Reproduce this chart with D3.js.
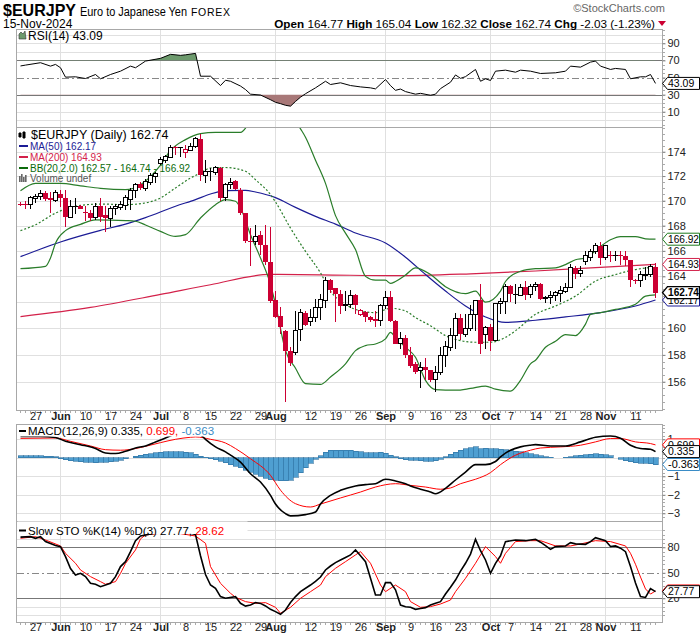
<!DOCTYPE html>
<html><head><meta charset="utf-8">
<script src="https://cdn.jsdelivr.net/npm/d3@7"></script>
<style>
body{margin:0;background:#fff}
svg{display:block}
text{font-family:"Liberation Sans",Arial,sans-serif}
</style></head>
<body><svg id="c" width="700" height="639"></svg>
<script>
// ---------------- DATA ----------------
const startDay = "2024-05-22", endDay = "2024-11-15";
const open = [169.75,169.70,169.73,170.14,170.35,170.62,170.22,170.00,170.54,170.22,
168.68,169.52,169.60,169.05,169.00,168.68,169.54,168.87,168.60,169.35,
169.46,169.65,170.08,170.81,171.35,170.98,171.44,172.00,173.00,173.25,
173.53,174.40,174.30,173.90,174.10,174.45,175.07,172.08,172.40,172.33,
172.66,170.22,171.30,171.60,170.90,169.00,166.80,166.75,167.27,166.49,
165.13,162.14,160.94,159.80,158.30,158.20,159.90,161.20,160.52,160.82,
161.58,162.15,163.71,163.11,162.65,161.71,161.84,162.55,161.07,161.28,
160.87,160.72,160.57,161.71,162.40,160.57,158.87,159.30,158.00,157.30,
156.84,157.09,156.84,156.16,156.72,157.95,158.57,159.45,160.82,159.57,
160.00,161.07,162.20,159.52,160.07,159.07,161.91,162.05,163.24,162.62,
162.55,163.16,162.60,163.20,163.37,162.25,162.35,162.52,162.70,162.86,
163.16,164.66,164.22,165.13,165.49,165.96,166.41,165.44,165.70,165.62,
165.65,165.60,165.30,163.70,163.65,164.05,164.14,164.77];
const high = [169.92,169.95,170.41,170.54,170.90,170.81,170.70,170.90,170.90,170.90,
170.08,170.20,169.65,169.54,169.27,169.80,170.20,169.54,169.54,169.73,
169.95,170.49,171.03,171.43,171.50,171.80,172.25,172.35,173.55,173.70,
174.58,174.45,174.42,174.58,174.72,175.20,175.46,173.34,172.66,172.80,
172.70,171.43,171.84,171.70,171.03,169.00,167.80,168.07,167.54,168.07,
167.90,162.86,161.66,159.90,158.60,161.30,161.45,161.30,161.45,162.22,
162.60,163.95,163.76,163.11,162.94,162.86,162.94,162.60,161.45,161.33,
160.94,161.33,161.84,162.90,162.86,160.60,159.70,159.50,158.60,157.50,
157.45,157.80,156.90,157.20,158.57,159.07,160.00,161.20,161.10,161.07,
161.79,162.20,163.40,160.20,160.32,161.97,162.35,163.37,163.30,163.37,
163.37,163.63,163.37,163.60,163.45,162.45,162.86,162.90,163.24,163.50,
164.99,164.79,164.79,165.96,166.14,166.62,166.70,166.50,166.00,165.96,
166.00,166.00,165.30,163.80,164.40,164.70,165.00,165.04];
const low = [169.55,169.30,169.30,169.82,170.08,169.95,169.00,169.90,169.46,167.90,
168.60,168.90,169.30,168.34,168.34,168.47,168.30,167.50,167.90,168.87,
169.28,169.28,169.28,170.22,170.90,170.80,171.30,171.44,172.90,173.10,
173.45,173.75,173.60,173.48,174.03,174.30,171.57,171.44,171.57,172.12,
169.95,170.00,170.98,170.90,168.87,166.62,164.79,166.49,165.70,164.92,
161.97,160.80,159.60,154.50,157.20,158.00,159.07,160.20,160.20,160.52,
160.62,161.58,162.73,160.45,161.07,161.33,161.58,161.07,160.95,160.45,
160.52,160.07,160.20,161.45,160.45,158.80,158.45,157.80,157.00,156.60,
155.50,156.10,156.00,155.25,156.47,157.09,158.32,158.45,159.12,159.32,
159.82,159.82,158.07,158.45,158.32,159.02,161.07,161.07,162.00,161.84,
162.47,162.14,162.35,162.90,162.20,161.97,161.90,162.10,162.00,162.73,
163.11,163.76,163.95,164.92,165.23,165.75,164.92,165.30,165.10,165.20,
164.90,164.80,163.16,163.37,163.16,163.70,163.97,162.32];
const close = [169.72,169.68,170.22,170.35,170.62,170.17,170.06,170.70,170.22,168.68,
169.54,169.56,169.36,169.00,168.60,169.54,168.68,168.60,169.35,169.54,
169.73,170.22,170.81,171.30,171.03,171.57,172.06,172.20,173.35,173.60,
174.36,174.34,174.38,174.17,174.45,175.07,172.12,172.39,172.42,172.66,
170.22,171.35,171.50,170.98,169.00,166.75,166.72,167.14,166.49,165.13,
162.10,160.87,160.10,158.30,157.40,159.87,161.20,160.27,160.82,161.58,
162.22,163.71,162.94,162.60,161.71,161.84,162.55,161.79,161.33,160.87,
160.62,160.57,161.71,162.40,160.57,158.82,159.27,158.00,157.20,156.72,
157.09,156.84,156.16,156.72,157.95,158.62,159.45,160.75,159.57,160.00,
161.07,162.14,158.82,160.07,159.07,161.89,162.09,163.24,162.60,162.62,
163.16,162.55,163.24,163.40,162.22,162.40,162.52,162.73,162.90,163.16,
164.66,164.22,164.48,165.65,165.96,166.41,165.44,166.41,165.60,165.65,
165.62,165.30,163.68,163.65,164.14,164.16,164.77,162.74];

// overlays: [day index, value]
const ma50 = [[0,165.54],[8,166.70],[16,167.62],[21,168.12],[25,168.64],[31,169.55],[35,170.09],[38,170.54],[41,170.81],[45,170.84],[47,170.70],[51,170.25],[55,169.46],[59,168.74],[63,168.12],[67,167.41],[73,166.62],[77,165.50],[81,164.14],[85,162.86],[89,161.71],[93,160.87],[97,160.45],[103,160.62],[109,160.87],[116,161.20],[123,161.71],[127,162.17]];
const ma200 = [[0,160.9],[14,161.6],[28,162.6],[38,163.35],[50,164.15],[60,164.12],[75,164.05],[90,164.2],[103,164.42],[115,164.68],[127,164.93]];
const bbUpper = [[0,170.8],[3,171.4],[8,171.4],[12,171.2],[16,171.0],[21,170.9],[24,171.3],[28,172.9],[30,174.1],[33,175.0],[36,175.5],[39,175.6],[44,175.6],[46,176.5],[48,177.2],[50,177.6],[52,177.7],[54,177.2],[56,175.9],[57,175.2],[59,173.3],[61,171.4],[63,168.8],[65,167.4],[67,166.1],[69,164.0],[71,163.7],[73,163.7],[74,163.45],[75,163.6],[77,164.1],[79,164.66],[82,164.14],[85,163.2],[89,162.66],[91,162.86],[93,162.0],[96,162.86],[97,163.6],[100,164.4],[103,164.6],[107,164.66],[109,164.92],[111,165.3],[113,165.44],[116,166.35],[118,166.87],[120,167.13],[123,167.13],[125,166.95],[127,166.92]];
const bbMiddle = [[0,167.6],[3,168.07],[7,169.0],[12,169.62],[16,169.73],[21,169.68],[25,169.82],[28,170.22],[31,171.03],[34,171.84],[36,172.25],[38,172.66],[41,172.7],[45,172.39],[47,171.7],[50,170.49],[51,169.9],[54,167.8],[57,165.96],[60,164.27],[62,162.86],[65,161.84],[68,161.33],[71,161.2],[74,161.53],[77,161.33],[79,160.82],[82,160.2],[85,159.45],[88,159.07],[91,158.95],[94,158.95],[97,159.32],[99,159.82],[103,161.07],[107,161.71],[111,162.47],[115,163.63],[119,164.14],[123,164.53],[127,164.74]];
const bbLower = [[0,164.6],[5,164.78],[6,165.44],[7,166.6],[9,167.6],[12,168.1],[15,168.46],[21,168.4],[23,168.35],[25,168.05],[28,167.54],[31,167.14],[33,167.28],[36,168.61],[39,169.68],[41,170.09],[43,169.95],[44,169.41],[46,167.27],[48,165.44],[50,163.37],[51,161.84],[53,158.32],[55,157.0],[57,155.86],[60,155.8],[62,156.35],[65,157.33],[67,158.32],[69,158.7],[71,158.82],[73,159.2],[74,159.7],[75,159.32],[77,158.57],[79,157.82],[81,156.1],[83,155.42],[87,155.37],[90,155.5],[93,155.68],[95,155.45],[98,155.3],[100,156.1],[102,157.33],[103,157.6],[105,158.57],[107,159.02],[109,159.52],[111,159.45],[113,160.32],[114,161.07],[116,161.2],[119,161.45],[123,161.84],[125,162.47],[127,162.57]];

const rsi = [[0,63.5],[1,64.5],[4,67.3],[6,63.3],[7,65.3],[8,61.4],[9,50.4],[11,50.8],[13,48.8],[15,53.5],[16,48.5],[18,53.5],[20,57.4],[22,63.3],[23,61.4],[25,69.2],[28,72.4],[30,77.1],[32,75.9],[33,76.5],[35,78.2],[36,51.5],[38,51.5],[40,40.6],[41,46.8],[42,45.6],[44,40.0],[45,35.9],[46,30.5],[48,29.5],[50,24],[51,21],[52,19.4],[53,17.5],[54,16.5],[55,22],[56,27],[57,31],[59,37.9],[61,45.6],[62,41.8],[64,43.8],[66,40.6],[68,39],[70,37.9],[71,36.7],[73,47.6],[74,40.5],[75,35],[76,36.5],[77,33.5],[78,32],[79,30.5],[80,31.5],[82,29.2],[83,30.5],[84,37],[86,44.5],[87,53],[88,49],[89,51],[91,59.4],[92,45.6],[93,48.5],[94,46.5],[95,57.4],[97,58.6],[99,56.2],[100,58.6],[102,57.4],[104,54.7],[107,55.5],[109,57.4],[110,63.3],[112,62.1],[114,68],[115,69.2],[116,63.3],[118,59.4],[119,60.6],[121,59.4],[122,48.5],[124,50.8],[125,50.8],[126,53.5],[127,43.09]];

const macdLine = [[0,1.15],[4,1.15],[7,1.1],[9,0.89],[12,0.71],[15,0.5],[17,0.26],[19,0.23],[21,0.35],[23,0.53],[25,0.64],[27,0.86],[29,1.07],[31,1.3],[33,1.45],[35,1.5],[36,1.25],[37,1.0],[39,0.59],[41,0.32],[42,0.14],[44,-0.23],[46,-0.86],[48,-1.31],[50,-2.03],[51,-2.5],[53,-3.02],[54,-3.14],[57,-3.07],[59,-2.93],[60,-2.5],[62,-2.03],[64,-1.76],[67,-1.52],[69,-1.45],[71,-1.40],[73,-1.16],[75,-1.25],[77,-1.40],[78,-1.52],[80,-1.70],[82,-1.85],[83,-1.94],[85,-1.65],[87,-1.2],[89,-0.77],[91,-0.37],[93,-0.37],[95,-0.2],[96,0.05],[98,0.41],[100,0.59],[102,0.68],[103,0.71],[106,0.64],[109,0.64],[112,0.86],[115,1.11],[118,1.18],[120,1.06],[122,0.68],[124,0.5],[126,0.46],[127,0.335]];
const macdSignal = [[0,1.05],[7,1.07],[10,0.89],[14,0.64],[17,0.44],[20,0.41],[23,0.50],[25,0.62],[28,0.82],[31,1.0],[34,1.11],[35,1.13],[38,1.0],[41,0.8],[43,0.5],[46,-0.05],[50,-0.95],[52,-1.75],[55,-2.48],[58,-2.66],[60,-2.5],[64,-2.17],[68,-1.85],[71,-1.58],[75,-1.40],[78,-1.49],[81,-1.58],[84,-1.70],[86,-1.63],[88,-1.40],[91,-1.16],[94,-0.80],[96,-0.37],[99,0.14],[102,0.41],[104,0.53],[108,0.59],[112,0.68],[115,0.86],[118,1.04],[120,1.04],[123,0.86],[126,0.77],[127,0.699]];
const macdHist = [0.12,0.12,0.10,0.10,0.10,0.08,0.08,0.05,-0.05,-0.10,
-0.15,-0.18,-0.22,-0.24,-0.25,-0.26,-0.25,-0.24,-0.22,-0.18,
-0.12,-0.06,0.00,0.08,0.14,0.18,0.22,0.26,0.30,0.32,
0.33,0.33,0.32,0.30,0.26,0.20,0.08,0.02,-0.05,-0.10,
-0.18,-0.28,-0.38,-0.46,-0.55,-0.66,-0.78,-0.90,-1.00,-1.10,
-1.18,-1.22,-1.25,-1.25,-1.20,-1.05,-0.80,-0.55,-0.30,-0.08,
0.12,0.30,0.40,0.42,0.42,0.42,0.40,0.36,0.32,0.28,
0.26,0.28,0.30,0.24,0.14,0.05,-0.05,-0.10,-0.12,-0.14,
-0.16,-0.18,-0.18,-0.15,-0.08,0.05,0.18,0.30,0.40,0.48,
0.55,0.60,0.50,0.52,0.50,0.48,0.46,0.44,0.40,0.36,
0.32,0.28,0.22,0.16,0.10,0.05,0.02,0.00,0.00,0.02,
0.05,0.10,0.14,0.17,0.20,0.22,0.20,0.16,0.10,0.00,
-0.08,-0.15,-0.22,-0.28,-0.30,-0.30,-0.32,-0.363];

const stoK = [[0,92],[2,92.5],[3,90.6],[4,92.5],[5,86.7],[7,82],[8,80.8],[9,69],[10,55],[11,47.4],[12,49.4],[13,45.5],[14,37.6],[15,36.5],[16,33.7],[17,35.6],[18,37.6],[19,45.5],[20,57.3],[21,63.1],[22,74.9],[23,87.8],[24,93.3],[25,94.5],[27,97],[30,99],[33,98],[35,95],[36,70],[37,48],[38,35.6],[39,31.7],[40,22],[41,20],[43,22],[44,14.1],[45,10.8],[46,12.1],[47,15],[48,14],[49,11],[50,7],[51,4.3],[52,1.2],[53,6.2],[54,15],[55,22],[56,27.8],[58,35.6],[59,40],[60,45],[61,53.3],[62,58],[63,62],[64,65.1],[65,68],[66,71],[67,76.9],[68,70],[69,63.1],[70,43.5],[71,23.9],[72,23.9],[73,38.4],[74,38.4],[75,30],[76,12],[77,10],[78,9.4],[79,7],[80,8],[81,9],[82,12.1],[83,14.1],[84,16],[85,25],[86,33],[87,41.5],[88,52],[89,61.2],[90,72],[91,89.4],[92,76],[93,65.1],[94,49.4],[95,61.2],[96,70],[97,86.7],[99,88.6],[101,87.8],[103,89.4],[104,86],[105,82],[106,77.6],[107,80.8],[109,81.6],[110,85.5],[111,84],[113,83.5],[114,86.7],[115,91.4],[117,87.8],[118,81],[119,81.6],[120,79],[121,74.9],[122,57.3],[123,38],[124,22],[125,21],[126,31.5],[127,27.77]];
const stoD = [[0,90.6],[3,92.5],[5,88.6],[8,81.6],[9,72.9],[11,61.2],[12,53.3],[14,45.5],[16,39.6],[17,36.5],[19,39.6],[20,49.4],[21,61],[23,76.9],[24,90],[25,94.5],[30,98],[35,93.3],[37,84.7],[38,57.3],[40,37.6],[42,25.9],[43,21.2],[45,16.1],[47,14.1],[49,14.9],[51,9.4],[52,2.4],[54,9.4],[56,20],[58,27.8],[60,35.6],[61,45.5],[63,55.3],[65,63.1],[67,71],[68,74.9],[70,61.2],[72,35.6],[73,27.8],[75,35.6],[77,27.8],[78,16.1],[80,9.4],[82,10.2],[84,13.3],[86,18],[87,27.8],[89,43.5],[91,61.2],[93,80.8],[95,69.1],[96,61.2],[97,72.9],[99,86.7],[102,87.8],[104,87.8],[107,81.6],[110,81.6],[112,83.9],[115,87.8],[118,86.7],[121,81.6],[122,72.9],[123,60],[124,45],[125,31],[126,25],[127,28.62]];

const priceTicks = [156,158,160,162,164,166,168,170,172,174];
const priceLabels = [156,158,160,164,166,168,170,172,174];   // 162 is hidden behind the value tags
const rsiTicks = [90,70,50,30,10];
const macdTicks = [1,0,-1,-2,-3];
const macdLabels = [1,-1,-2,-3];                              // 0 is hidden behind the value tags
const stoTicks = [80,50,20];
const xTicks = [["2024-05-27","27"],["2024-06-03","Jun"],["2024-06-10","10"],["2024-06-17","17"],["2024-06-24","24"],["2024-07-01","Jul"],["2024-07-08","8"],["2024-07-15","15"],["2024-07-22","22"],["2024-07-29","29"],["2024-08-01","Aug"],["2024-08-12","12"],["2024-08-19","19"],["2024-08-26","26"],["2024-09-02","Sep"],["2024-09-09","9"],["2024-09-16","16"],["2024-09-23","23"],["2024-10-01","Oct"],["2024-10-07","7"],["2024-10-14","14"],["2024-10-21","21"],["2024-10-28","28"],["2024-11-01","Nov"],["2024-11-11","11"]];
const monthNames = ["Jun","Jul","Aug","Sep","Oct","Nov"];

// ---------------- LAYOUT ----------------
const X0 = 16.5, X1 = 662.5;
const P = {rsi:[29.5,127], main:[127,410.5], macd:[424.5,521], sto:[521,622.5]};
const RED = "#cc0033", NAVY = "#1c1c96", MA2 = "#d3214a", GRN = "#2a7d2a", GRID = "#e0e0e0", HBAR = "#4f9fd1";

const svg = d3.select("#c");
const defs = svg.append("defs");
const fmt = d3.utcFormat("%Y-%m-%d");
const dayList = d3.utcDay.range(new Date(startDay+"T00:00:00Z"), d3.utcDay.offset(new Date(endDay+"T00:00:00Z"),1))
  .filter(d => d.getUTCDay()!==0 && d.getUTCDay()!==6).map(fmt);
const x = d3.scalePoint().domain(dayList).range([20.5, 20.5 + 5*(dayList.length-1)]);
const xi = i => x(dayList[i]);

const yR = d3.scaleLinear().domain([10,90]).range([111.7,43.3]);
const yM = d3.scaleLog().domain([156,174]).range([381.7,151.7]);
const yD = d3.scaleLinear().domain([-3,1]).range([513.3,439.3]);
const yS = d3.scaleLinear().domain([20,80]).range([598.3,547.3]);

function clip(id, r){ defs.append("clipPath").attr("id",id).append("rect").attr("x",X0).attr("y",r[0]).attr("width",X1-X0).attr("height",r[1]-r[0]); }
Object.keys(P).forEach(k => clip("cl-"+k, P[k]));

// grids
const gridG = svg.append("g").attr("shape-rendering","crispEdges");
const monthKeys = xTicks.filter(t => monthNames.includes(t[1])).map(t => t[0]);
Object.keys(P).forEach(k => {
  gridG.selectAll(null).data(monthKeys).join("line")
    .attr("x1", d => x(d)).attr("x2", d => x(d)).attr("y1", P[k][0]).attr("y2", P[k][1])
    .attr("stroke", GRID);
});
function hgrid(vals, sc, col, dash){
  gridG.selectAll(null).data(vals).join("line")
    .attr("x1", X0).attr("x2", X1).attr("y1", d => Math.round(sc(d))+0.5).attr("y2", d => Math.round(sc(d))+0.5)
    .attr("stroke", col).attr("stroke-dasharray", dash || null);
}
hgrid(priceTicks, yM, GRID);
hgrid([0,10,20,80,90,100], yR, GRID);
hgrid(macdTicks, yD, GRID);
hgrid([0,10,90,100], yS, GRID);
hgrid([70,30], yR, "#777");
hgrid([50], yR, "#888", "7,3,2,3");
hgrid([80,20], yS, "#777");
hgrid([50], yS, "#888", "7,3,2,3");

// ---------------- RSI ----------------
const rsiG = svg.append("g").attr("clip-path","url(#cl-rsi)");
defs.append("clipPath").attr("id","ob").append("rect").attr("x",X0).attr("y",P.rsi[0]).attr("width",X1-X0).attr("height",yR(70)-P.rsi[0]);
defs.append("clipPath").attr("id","os").append("rect").attr("x",X0).attr("y",yR(30)).attr("width",X1-X0).attr("height",P.rsi[1]-yR(30));
const rsiArea70 = d3.area().x(d => xi(d[0])).y0(yR(70)).y1(d => yR(d[1]));
const rsiArea30 = d3.area().x(d => xi(d[0])).y0(yR(30)).y1(d => yR(d[1]));
rsiG.append("g").attr("clip-path","url(#ob)").append("path").attr("d", rsiArea70(rsi)).attr("fill","#6d9a6d").attr("stroke","none");
rsiG.append("g").attr("clip-path","url(#os)").append("path").attr("d", rsiArea30(rsi)).attr("fill","#a87878").attr("stroke","none");
rsiG.append("path").attr("d", d3.line().x(d=>xi(d[0])).y(d=>yR(d[1]))(rsi)).attr("fill","none").attr("stroke","#000").attr("stroke-width",1);

// ---------------- MAIN ----------------
const mainG = svg.append("g").attr("clip-path","url(#cl-main)");
const sline = d3.line().x(d=>xi(d[0])).y(d=>yM(d[1])).curve(d3.curveMonotoneX);
mainG.append("path").attr("d", sline(ma200)).attr("fill","none").attr("stroke",MA2).attr("stroke-width",1.2);
mainG.append("path").attr("d", sline(ma50)).attr("fill","none").attr("stroke",NAVY).attr("stroke-width",1.2);
mainG.append("path").attr("d", sline(bbUpper)).attr("fill","none").attr("stroke",GRN).attr("stroke-width",1.2);
mainG.append("path").attr("d", sline(bbLower)).attr("fill","none").attr("stroke",GRN).attr("stroke-width",1.2);
mainG.append("path").attr("d", sline(bbMiddle)).attr("fill","none").attr("stroke",GRN).attr("stroke-width",1.2).attr("stroke-dasharray","2,2");

const candles = d3.range(dayList.length).map(i => ({i, o:open[i], h:high[i], l:low[i], c:close[i],
  col: (i===0 ? close[i]>=open[i] : close[i]>=close[i-1]) ? "#000" : RED}));
const cg = mainG.append("g").attr("shape-rendering","crispEdges");
candles.forEach(d => {
  const cx = xi(d.i);
  cg.append("line").attr("x1",cx).attr("x2",cx).attr("y1",yM(d.h)).attr("y2",yM(d.l)).attr("stroke",d.col);
  const top = yM(Math.max(d.o,d.c)), bot = yM(Math.min(d.o,d.c));
  if (bot - top < 1.2) {
    cg.append("line").attr("x1",cx-2.5).attr("x2",cx+2.5).attr("y1",Math.round(top)+0.5).attr("y2",Math.round(top)+0.5).attr("stroke",d.col);
  } else if (d.c > d.o) {
    cg.append("rect").attr("x",cx-2).attr("y",top).attr("width",4).attr("height",bot-top).attr("fill","#fff").attr("stroke",d.col);
  } else {
    cg.append("rect").attr("x",cx-2.5).attr("y",top).attr("width",5).attr("height",bot-top).attr("fill",d.col);
  }
});

// ---------------- MACD ----------------
const macdG = svg.append("g").attr("clip-path","url(#cl-macd)");
macdG.append("g").attr("shape-rendering","crispEdges").selectAll("rect").data(macdHist).join("rect")
  .attr("x", (d,i) => xi(i)-2.5).attr("width",5)
  .attr("y", d => Math.min(yD(0), yD(d))).attr("height", d => Math.abs(yD(d)-yD(0)))
  .attr("fill", HBAR).attr("stroke","#2c6e9c").attr("stroke-width",0.6);
const lD = d3.line().x(d=>xi(d[0])).y(d=>yD(d[1])).curve(d3.curveMonotoneX);
macdG.append("path").attr("d", lD(macdSignal)).attr("fill","none").attr("stroke","#ff0000").attr("stroke-width",1);
macdG.append("path").attr("d", lD(macdLine)).attr("fill","none").attr("stroke","#000").attr("stroke-width",1.6);

// ---------------- STO ----------------
const stoG = svg.append("g").attr("clip-path","url(#cl-sto)");
const lS = d3.line().x(d=>xi(d[0])).y(d=>yS(d[1]));
stoG.append("path").attr("d", lS(stoD)).attr("fill","none").attr("stroke","#ff0000").attr("stroke-width",1);
stoG.append("path").attr("d", lS(stoK)).attr("fill","none").attr("stroke","#000").attr("stroke-width",1.6);

// ---------------- BORDERS ----------------
const bG = svg.append("g").attr("shape-rendering","crispEdges");
Object.keys(P).forEach(k => {
  bG.append("rect").attr("x",X0).attr("y",P[k][0]).attr("width",X1-X0).attr("height",P[k][1]-P[k][0])
    .attr("fill","none").attr("stroke","#a8a8a8");
});
[P.main[1], P.sto[1]].forEach(yb => {
  bG.selectAll(null).data(dayList).join("line").attr("x1",d=>x(d)).attr("x2",d=>x(d)).attr("y1",yb).attr("y2",yb+2).attr("stroke","#aaa");
});
function minor(vals, sc){ bG.selectAll(null).data(vals).join("line").attr("x1",X1).attr("x2",X1+2).attr("y1",d=>Math.round(sc(d))+0.5).attr("y2",d=>Math.round(sc(d))+0.5).attr("stroke","#aaa"); }
minor(d3.range(154,176.01,0.5), yM);
minor(d3.range(-5,106,5), yR);
minor(d3.range(-3.2,1.9,0.2), yD);
minor(d3.range(0,101,5), yS);

// ---------------- AXES ----------------
function rightAxis(sc, ticks, f){
  const g = svg.append("g").attr("transform",`translate(${X1},0)`)
    .call(d3.axisRight(sc).tickValues(ticks).tickFormat(f).tickSize(3).tickPadding(2));
  g.select(".domain").remove();
  g.selectAll("line").attr("stroke","#888");
  g.selectAll("text").attr("font-size",11).attr("fill","#222").attr("font-family","Liberation Sans, Arial, sans-serif");
}
rightAxis(yR, rsiTicks, d3.format("d"));
rightAxis(yM, priceLabels, d3.format("d"));
rightAxis(yD, macdLabels, d3.format("d"));
rightAxis(yS, stoTicks, d3.format("d"));

const lab = new Map(xTicks);
function bottomAxis(y){
  const g = svg.append("g").attr("transform",`translate(0,${y})`)
    .call(d3.axisBottom(x).tickValues(xTicks.map(t=>t[0])).tickFormat(k=>lab.get(k)).tickSize(0).tickPadding(0));
  g.select(".domain").remove();
  g.selectAll("text").attr("font-size",11).attr("fill","#222").attr("font-family","Liberation Sans, Arial, sans-serif")
    .attr("font-weight", k => monthNames.includes(lab.get(k)) ? "bold" : null);
}
bottomAxis(P.main[1]+1.5);
bottomAxis(P.sto[1]+1);

// ---------------- TAGS ----------------
function tag(y, txt, col, bold){
  const g = svg.append("g");
  g.append("path").attr("d",`M${X1},${y} L${X1+5},${y-6} H699.5 V${y+6} H${X1+5} Z`)
    .attr("fill","#fff").attr("stroke",col).attr("stroke-width", bold?1.4:1);
  g.append("text").attr("x",X1+5.5).attr("y",y+3.8).attr("font-size",10.5).attr("fill","#000")
    .attr("font-weight", bold?"bold":null).attr("textLength", txt.length>5 ? 31 : null).attr("lengthAdjust","spacingAndGlyphs").text(txt);
}
tag(yR(43.09), "43.09", "#000");
tag(yM(166.92), "166.92", "#1e7a1e");
tag(yM(164.93), "164.93", MA2);
tag(yM(162.17), "162.17", NAVY);
tag(yM(162.74), "162.74", "#000", true);
tag(yD(0.699), "0.699", "#ff0000");
tag(yD(0.335), "0.335", "#000");
tag(yD(-0.363), "-0.363", "#3a8cc6");
tag(yS(28.62), "28.62", "#ff0000");
tag(yS(27.77), "27.77", "#000");

// ---------------- LEGENDS ----------------
const lg = svg.append("g");
lg.append("path").attr("d","M19,39 L19,34 L21,32 L23,34 L25,31 L26,39 Z").attr("fill","#6d9a6d").attr("stroke","#333").attr("stroke-width",0.6);
lg.append("text").attr("x",28).attr("y",39.5).attr("font-size",12).text("RSI(14) 43.09");
[[20,133,137,"#000"],[24,132,138,"#000"]].forEach(a=>{
  lg.append("line").attr("x1",a[0]).attr("x2",a[0]).attr("y1",a[1]-1).attr("y2",a[2]+1).attr("stroke",a[3]);
  lg.append("rect").attr("x",a[0]-1.5).attr("y",a[1]).attr("width",3).attr("height",a[2]-a[1]).attr("fill",a[3]);
});
lg.append("text").attr("x",31).attr("y",138.5).attr("font-size",12.5).text("$EURJPY (Daily) 162.74");
const legRows = [["MA(50) 162.17",NAVY,149.5],["MA(200) 164.93",MA2,160.5],["BB(20,2.0) 162.57 - 164.74 - 166.92","#0b6b0b",171.5]];
legRows.forEach(r => {
  lg.append("line").attr("x1",19).attr("x2",28).attr("y1",r[2]-3.5).attr("y2",r[2]-3.5).attr("stroke",r[1]).attr("stroke-width",2);
  lg.append("text").attr("x",30).attr("y",r[2]).attr("font-size",10).attr("fill",r[1]).text(r[0]);
});
[[19,176,182],[21,174,182],[23,177,182],[25,175,182]].forEach(b=>lg.append("rect").attr("x",b[0]).attr("y",b[1]).attr("width",1.6).attr("height",b[2]-b[1]).attr("fill","#666"));
lg.append("text").attr("x",30).attr("y",182).attr("font-size",10).attr("fill","#555").text("Volume undef");

lg.append("rect").attr("x",17.5).attr("y",425.5).attr("width",222).attr("height",11).attr("fill","#fff");
lg.append("line").attr("x1",19).attr("x2",26).attr("y1",431).attr("y2",431).attr("stroke","#000").attr("stroke-width",2);
const mt = lg.append("text").attr("x",28).attr("y",435).attr("font-size",11.5);
mt.append("tspan").text("MACD(12,26,9) 0.335, ");
mt.append("tspan").attr("fill","#ff0000").text("0.699, ");
mt.append("tspan").attr("fill","#3a8cc6").text("-0.363");
lg.append("rect").attr("x",17.5).attr("y",521.5).attr("width",230).attr("height",12.5).attr("fill","#fff");
lg.append("line").attr("x1",19).attr("x2",26).attr("y1",530.5).attr("y2",530.5).attr("stroke","#000").attr("stroke-width",2);
const st = lg.append("text").attr("x",28).attr("y",534.5).attr("font-size",11.5);
st.append("tspan").text("Slow STO %K(14) %D(3) 27.77, ");
st.append("tspan").attr("fill","#ff0000").text("28.62");

// ---------------- HEADER ----------------
const hd = svg.append("g");
hd.append("text").attr("x",3).attr("y",16).attr("font-size",16.5).attr("font-weight","bold")
  .attr("textLength",73).attr("lengthAdjust","spacingAndGlyphs").text("$EURJPY");
hd.append("text").attr("x",80).attr("y",16).attr("font-size",12)
  .attr("textLength",107).attr("lengthAdjust","spacingAndGlyphs").text("Euro to Japanese Yen");
hd.append("text").attr("x",191).attr("y",16).attr("font-size",10.5).attr("letter-spacing",0.7).text("FOREX");
hd.append("text").attr("x",3).attr("y",28).attr("font-size",12).text("15-Nov-2024");
hd.append("text").attr("x",665).attr("y",12).attr("font-size",11).attr("fill","#666").attr("text-anchor","end").text("©StockCharts.com");
const ht = hd.append("text").attr("x",655).attr("y",27.5).attr("font-size",11.7).attr("text-anchor","end");
[["Open",true],[" 164.77 ",false],["High",true],[" 165.04 ",false],["Low",true],[" 162.32 ",false],["Close",true],[" 162.74 ",false],["Chg",true],[" -2.03 (-1.23%)",false]]
  .forEach(p => ht.append("tspan").attr("font-weight", p[1]?"bold":null).text(p[0]));
hd.append("path").attr("d","M658,21 L666,21 L662,26 Z").attr("fill",RED);
</script></body></html>
